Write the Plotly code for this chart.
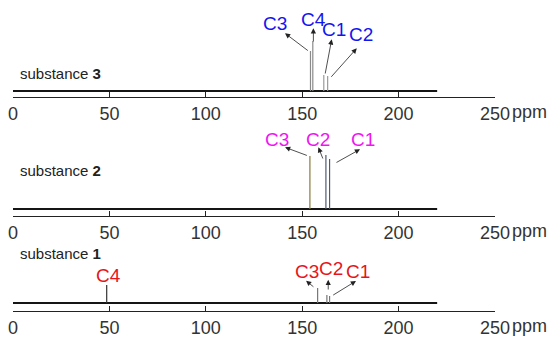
import plotly.graph_objects as go

# ---------------- data ----------------
ppm_ticks = [0, 50, 100, 150, 200, 250]
baseline_start = 0
baseline_end = 220

# substance 3 (top)
sub3_labels = ["C3", "C4", "C1", "C2"]
sub3_shift = [154.3, 155.5, 161.2, 163.2]
sub3_int = [40, 50, 16, 15]

# substance 2 (middle)
sub2_labels = ["C3", "C2", "C1"]
sub2_shift = [154.0, 162.3, 164.2]
sub2_int = [53, 54, 50]

# substance 1 (bottom)
sub1_labels = ["C4", "C3", "C2", "C1"]
sub1_shift = [48.6, 158.0, 162.8, 164.2]
sub1_int = [18, 15, 8, 7]

# ---------------- style ----------------
W, H = 555, 337
NARROW = "Liberation Sans Narrow, Arial Narrow, Liberation Sans, Arial, sans-serif"
SANS = "Liberation Sans, Arial, sans-serif"
X0, X1 = 13 / W, 495 / W

panels = [
    dict(sfx="", dom=[(337 - 97) / 337, 332 / 337], yr=[-6, 86],
         shift=sub3_shift, inten=sub3_int, labels=sub3_labels,
         pcol=["#8a8a8a", "#8a8a8a", "#9a9a9a", "#9a9a9a"], lcol="#1414f0",
         name="3", sy=17,
         arrows=[((153.7, 39.3), (141.1, 57.7)), ((155.8, 48), (155.8, 62.7)),
                 ((161.8, 16), (165.3, 51.7)), ((164.4, 12.7), (178.3, 42.7))],
         lpos=[(135.9, 67), (155.8, 71.7), (166.5, 61), (180.3, 56)]),
    dict(sfx="2", dom=[121 / 337, 211 / 337], yr=[-7, 83],
         shift=sub2_shift, inten=sub2_int, labels=sub2_labels,
         pcol=["#8a7a3c", "#4f5a78", "#4f5a78"], lcol="#f014f0",
         name="2", sy=39,
         arrows=[((153.2, 53), (141.1, 61.7)), ((161.0, 49), (158.4, 61.7)),
                 ((167.0, 45.7), (180.0, 59.7))],
         lpos=[(136.8, 69.7), (158.0, 69.7), (181.4, 69.7)]),
    dict(sfx="3", dom=[26 / 337, 99 / 337], yr=[-8, 65],
         shift=sub1_shift, inten=sub1_int, labels=sub1_labels,
         pcol=["#333333", "#777777", "#777777", "#777777"], lcol="#e8141c",
         name="1", sy=50,
         arrows=[None, ((156.6, 15), (152.0, 22.3)), ((163.5, 12), (163.5, 23.3)),
                 ((165.3, 7), (177.9, 22))],
         lpos=[(49.3, 28), (152.5, 32), (164.8, 35), (179.0, 32)]),
]

fig = go.Figure()
annotations = []
layout = dict(
    template="none",
    width=W, height=H, margin=dict(l=0, r=0, t=0, b=0, autoexpand=False),
    paper_bgcolor="white", plot_bgcolor="white", showlegend=False,
)

for p in panels:
    xa = "x" + p["sfx"]
    ya = "y" + p["sfx"]
    fig.add_trace(go.Scatter(
        x=[baseline_start, baseline_end], y=[0, 0], mode="lines",
        line=dict(color="#151515", width=2.2), xaxis=xa, yaxis=ya,
        hoverinfo="skip"))
    for s, h, c in zip(p["shift"], p["inten"], p["pcol"]):
        fig.add_trace(go.Scatter(
            x=[s, s], y=[0, h], mode="lines",
            line=dict(color=c, width=1.2), xaxis=xa, yaxis=ya,
            hoverinfo="skip"))
    layout["xaxis" + p["sfx"]] = dict(
        domain=[X0, X1], range=[0, 250], anchor=ya, automargin=False,
        tickvals=ppm_ticks, ticktext=[str(t) for t in ppm_ticks],
        ticks="inside", ticklen=5, tickwidth=1, tickcolor="#222",
        showline=True, linecolor="#222", linewidth=1,
        showgrid=False, zeroline=False,
        tickfont=dict(family=NARROW, size=18, color="#333"),
        ticklabelstandoff=0, fixedrange=True)
    layout["yaxis" + p["sfx"]] = dict(
        domain=p["dom"], range=p["yr"], anchor=xa, visible=False,
        automargin=False, showgrid=False, zeroline=False, fixedrange=True)
    annotations.append(dict(
        text="ppm", xref="paper", yref="paper", x=529 / W,
        y=p["dom"][0], yshift=-15, showarrow=False,
        font=dict(family=NARROW, size=18, color="#333"),
        xanchor="center", yanchor="middle"))
    annotations.append(dict(
        text="substance <b>" + p["name"] + "</b>", xref=xa, yref=ya,
        x=2.6, y=p["sy"], showarrow=False, xanchor="left", yanchor="middle",
        font=dict(family=SANS, size=15, color="#222")))
    for arr in p["arrows"]:
        if arr is None:
            continue
        (tx, ty), (hx, hy) = arr
        annotations.append(dict(
            text="", xref=xa, yref=ya, x=hx, y=hy, axref=xa, ayref=ya,
            ax=tx, ay=ty, showarrow=True, arrowhead=2, arrowsize=1.3,
            arrowwidth=0.8, arrowcolor="#222", standoff=0, startstandoff=0))
    for lab, (lx, ly) in zip(p["labels"], p["lpos"]):
        annotations.append(dict(
            text=lab, xref=xa, yref=ya, x=lx, y=ly, showarrow=False,
            xanchor="center", yanchor="middle",
            font=dict(family=NARROW, size=19, color=p["lcol"])))

layout["annotations"] = annotations
fig.update_layout(**layout)
fig.write_html("out.html",
               config={"displayModeBar": False, "staticPlot": True},
               post_script="document.body.style.margin='0px';"
                           "document.body.style.overflow='hidden';")
